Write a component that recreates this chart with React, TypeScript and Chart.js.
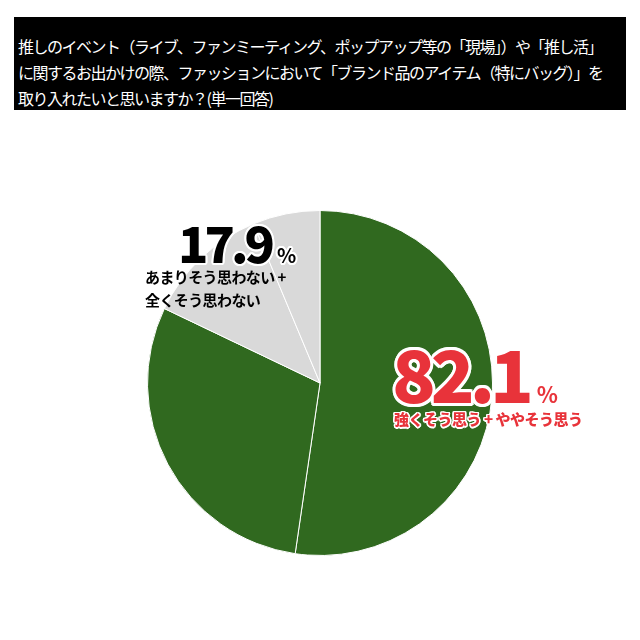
import { useEffect, useRef } from 'react'
import { Chart, registerables } from 'chart.js'

Chart.register(...registerables)

// survey answers, clockwise from 12 o'clock
const answers = ['強くそう思う', 'ややそう思う', 'あまりそう思わない', '全くそう思わない']
const shares = [52.3, 29.8, 11.6, 6.3]
const sliceColors = ['#30691f', '#30691f', '#d9d9d9', '#d9d9d9']

const titleLines = [
    '推しのイベント（ライブ、ファンミーティング、ポップアップ等の「現場」）や「推し活」',
    'に関するお出かけの際、ファッションにおいて「ブランド品のアイテム（特にバッグ）」を',
    '取り入れたいと思いますか？(単一回答)'
]

const agreeLabel = '強くそう思う + ややそう思う'
const disagreeLines = ['あまりそう思わない +', '全くそう思わない']

const agreeTotal = (shares[0] + shares[1]).toFixed(1)
const disagreeTotal = (shares[2] + shares[3]).toFixed(1)

const FONT = '"Noto Sans CJK JP", "Noto Sans", sans-serif'
const RED = '#e8333a'

const whiteEdge = (w: number) => {
    const s: string[] = []
    for (let a = 0; a < 360; a += 30) {
        const r = (a * Math.PI) / 180
        s.push(`${(Math.cos(r) * w).toFixed(1)}px ${(Math.sin(r) * w).toFixed(1)}px 0 #fff`)
    }
    return s.join(', ')
}

export default function App() {
    const chartRef = useRef<HTMLCanvasElement>(null)
    const chartInstance = useRef<Chart | null>(null)

    useEffect(() => {
        if (!chartRef.current) return
        if (chartInstance.current) chartInstance.current.destroy()

        chartInstance.current = new Chart(chartRef.current, {
            type: 'pie',
            data: {
                labels: answers,
                datasets: [{
                    data: shares,
                    backgroundColor: sliceColors,
                    borderColor: '#ffffff',
                    borderWidth: 1
                }]
            },
            options: {
                animation: false,
                responsive: true,
                maintainAspectRatio: false,
                layout: { padding: 0 },
                plugins: {
                    legend: { display: false },
                    tooltip: { enabled: false }
                }
            }
        })

        return () => {
            if (chartInstance.current) {
                chartInstance.current.destroy()
                chartInstance.current = null
            }
        }
    }, [])

    return (
        <div style={{
            position: 'fixed', left: 0, top: 0, width: 640, height: 640,
            background: '#fff', fontFamily: FONT, overflow: 'hidden'
        }}>
            <div style={{
                position: 'absolute', left: 14, top: 17, width: 612, height: 93,
                background: '#000', color: '#fff', boxSizing: 'border-box',
                padding: '16px 0 0 4px', fontSize: 16, lineHeight: '26px',
                letterSpacing: -1.5, whiteSpace: 'nowrap'
            }}>
                {titleLines.map(l => <div key={l}>{l}</div>)}
            </div>

            <div style={{ position: 'absolute', left: 147, top: 210, width: 346, height: 346 }}>
                <canvas ref={chartRef}></canvas>
            </div>

            {/* disagree label */}
            <div style={{
                position: 'absolute', left: 178, top: 205, color: '#000',
                whiteSpace: 'nowrap', textShadow: whiteEdge(2)
            }}>
                <span style={{ fontSize: 50, fontWeight: 900, letterSpacing: -4 }}>{disagreeTotal}</span>
                <span style={{ fontSize: 20, fontWeight: 700, marginLeft: 6 }}>%</span>
            </div>
            <div style={{
                position: 'absolute', left: 145, top: 265, color: '#000',
                fontSize: 15, fontWeight: 700, lineHeight: '23px', whiteSpace: 'nowrap',
                letterSpacing: -0.6
            }}>
                {disagreeLines.map(l => <div key={l}>{l}</div>)}
            </div>

            {/* agree label */}
            <div style={{
                position: 'absolute', left: 392, top: 319, color: RED,
                whiteSpace: 'nowrap', textShadow: whiteEdge(3)
            }}>
                <span style={{ fontSize: 72, fontWeight: 900, letterSpacing: -5 }}>{agreeTotal}</span>
                <span style={{ fontSize: 22, fontWeight: 700, marginLeft: 8 }}>%</span>
            </div>
            <div style={{
                position: 'absolute', left: 394, top: 408, color: RED,
                fontSize: 15, fontWeight: 900, whiteSpace: 'nowrap',
                textShadow: whiteEdge(1.5), letterSpacing: -0.5
            }}>
                {agreeLabel}
            </div>
        </div>
    )
}
